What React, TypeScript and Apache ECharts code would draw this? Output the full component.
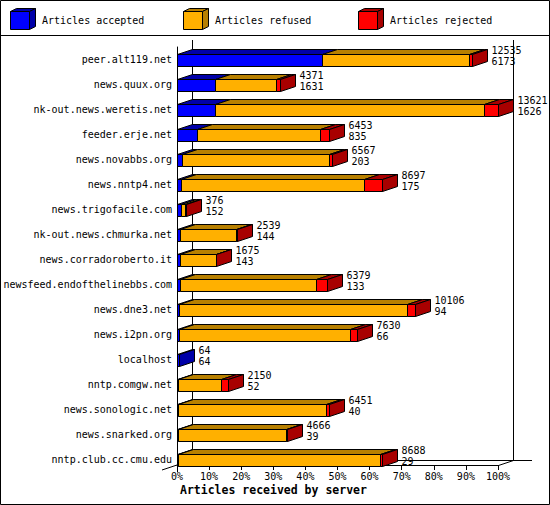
import React, { useEffect, useRef } from "react";
import * as echarts from "echarts";

// peers, top to bottom
const hosts = [
  "peer.alt119.net",
  "news.quux.org",
  "nk-out.news.weretis.net",
  "feeder.erje.net",
  "news.novabbs.org",
  "news.nntp4.net",
  "news.trigofacile.com",
  "nk-out.news.chmurka.net",
  "news.corradoroberto.it",
  "newsfeed.endofthelinebbs.com",
  "news.dne3.net",
  "news.i2pn.org",
  "localhost",
  "nntp.comgw.net",
  "news.sonologic.net",
  "news.snarked.org",
  "nntp.club.cc.cmu.edu",
];
const offered = [12535, 4371, 13621, 6453, 6567, 8697, 376, 2539, 1675, 6379, 10106, 7630, 64, 2150, 6451, 4666, 8688];
const accepted = [6173, 1631, 1626, 835, 203, 175, 152, 144, 143, 133, 94, 66, 64, 52, 40, 39, 29];
const refused = [6232, 2550, 11405, 5218, 6254, 7742, 204, 2380, 1492, 5756, 9652, 7294, 0, 1818, 6281, 4607, 8569];
const rejected = [130, 190, 590, 400, 110, 780, 20, 15, 40, 490, 360, 270, 0, 280, 130, 20, 90];

const seriesNames = ["Articles accepted", "Articles refused", "Articles rejected"];
const faceColors = ["#0000ff", "#ffb000", "#ff0000"];
const shadeColors = ["#0000a8", "#b88000", "#a80000"];

const MONO = '"DejaVu Sans Mono", "Liberation Mono", monospace';
const W = 550;
const H = 505;
const LEFT = 177; // 0% on the front plane
const RIGHT = 498; // 100% on the front plane
const TOP = 47;
const BOTTOM = 472;
const FLOOR = 465;
const DX = 15;
const DY = 5;

const App: React.FC = () => {
  const chartRef = useRef<HTMLDivElement | null>(null);

  useEffect(() => {
    document.body.style.margin = "0";
    const dom = chartRef.current;
    if (!dom) return;
    const chart = echarts.init(dom, null, { renderer: "svg" });

    const maxOffered = Math.max(...offered);
    const pct = (v: number) => (v / maxOffered) * 100;
    const data = hosts.map((_, i) => [
      i,
      pct(accepted[i]),
      pct(refused[i]),
      pct(rejected[i]),
      offered[i],
      accepted[i],
    ]);

    const renderItem = (_params: any, api: any) => {
      const row = api.value(0);
      const parts = [api.value(1), api.value(2), api.value(3)];
      const yc = api.coord([0, row])[1];
      const top = Math.round(yc - 6) + 0.5;
      const bottom = top + 12;
      const px = (v: number) => Math.round(api.coord([v, row])[0]) + 0.5;
      const children: any[] = [];
      let start = 0;
      let last = 0;
      parts.forEach((p: number, k: number) => {
        if (p <= 0) return;
        const x1 = px(start);
        const x2 = px(start + p);
        children.push({
          type: "polygon",
          shape: { points: [[x1, top], [x2, top], [x2, bottom], [x1, bottom]] },
          style: { fill: faceColors[k], stroke: "#000", lineWidth: 1 },
        });
        children.push({
          type: "polygon",
          shape: { points: [[x1, top], [x1 + DX, top - DY], [x2 + DX, top - DY], [x2, top]] },
          style: { fill: shadeColors[k], stroke: "#000", lineWidth: 1 },
        });
        start += p;
        last = k;
      });
      const xe = px(start);
      children.push({
        type: "polygon",
        shape: { points: [[xe, top], [xe + DX, top - DY], [xe + DX, bottom - DY], [xe, bottom]] },
        style: { fill: shadeColors[last], stroke: "#000", lineWidth: 1 },
      });
      children.push({
        type: "text",
        x: xe + DX + 4,
        y: yc - 3.5,
        style: {
          text: `${api.value(4)}\n${api.value(5)}`,
          fill: "#000",
          fontFamily: MONO,
          fontSize: 10,
          lineHeight: 11,
          verticalAlign: "middle",
          align: "left",
        },
      });
      return { type: "group", children };
    };

    // legend cubes
    const legendX = [10, 183, 358];
    const legendGraphics: any[] = [];
    seriesNames.forEach((name, k) => {
      const x0 = legendX[k] + 0.5;
      const y0 = 11.5;
      legendGraphics.push(
        {
          type: "polygon",
          shape: { points: [[x0, y0], [x0 + 6, y0 - 3], [x0 + 25, y0 - 3], [x0 + 19, y0]] },
          style: { fill: shadeColors[k], stroke: "#000", lineWidth: 1 },
        },
        {
          type: "polygon",
          shape: { points: [[x0 + 19, y0], [x0 + 25, y0 - 3], [x0 + 25, y0 + 15], [x0 + 19, y0 + 18]] },
          style: { fill: shadeColors[k], stroke: "#000", lineWidth: 1 },
        },
        {
          type: "rect",
          shape: { x: x0, y: y0, width: 19, height: 18 },
          style: { fill: faceColors[k], stroke: "#000", lineWidth: 1 },
        },
        {
          type: "text",
          x: legendX[k] + 32,
          y: 20,
          style: { text: name, fill: "#000", fontFamily: MONO, fontSize: 10, verticalAlign: "middle" },
        }
      );
    });

    const line = (x1: number, y1: number, x2: number, y2: number) => ({
      type: "line",
      z: 0,
      shape: { x1, y1, x2, y2 },
      style: { stroke: "#000", lineWidth: 1 },
    });

    const option = {
      animation: false,
      backgroundColor: "#fff",
      title: {
        text: "Articles received by server",
        left: 180,
        top: 484,
        padding: 0,
        textStyle: { fontFamily: MONO, fontSize: 11.5, fontWeight: "bold", color: "#000" },
      },
      grid: { left: LEFT, right: W - RIGHT, top: TOP, bottom: H - BOTTOM },
      xAxis: {
        type: "value",
        min: 0,
        max: 100,
        interval: 10,
        offset: -(BOTTOM - FLOOR),
        axisLine: { show: true, lineStyle: { color: "#000", width: 1 } },
        axisTick: { show: true, length: 5, lineStyle: { color: "#000" } },
        splitLine: { show: false },
        axisLabel: {
          formatter: "{value}%",
          color: "#000",
          fontFamily: MONO,
          fontSize: 10,
          margin: 6,
        },
      },
      yAxis: {
        type: "category",
        inverse: true,
        data: hosts,
        axisLine: { show: true, lineStyle: { color: "#000", width: 1 } },
        axisTick: { show: false },
        axisLabel: { color: "#000", fontFamily: MONO, fontSize: 10, margin: 5 },
      },
      graphic: [
        {
          type: "rect",
          z: 0,
          shape: { x: 0.5, y: 0.5, width: W - 1, height: H - 1 },
          style: { fill: "none", stroke: "#000", lineWidth: 1 },
        },
        line(0, 35.5, W, 35.5),
        // back wall, right wall and floor
        line(LEFT + DX + 0.5, 40, LEFT + DX + 0.5, FLOOR - DY + 0.5),
        line(RIGHT + DX + 0.5, 40, RIGHT + DX + 0.5, FLOOR - DY + 0.5),
        line(LEFT + DX, FLOOR - DY + 0.5, RIGHT + DX + 19, FLOOR - DY + 0.5),
        line(RIGHT + 0.5, FLOOR + 0.5, RIGHT + DX + 0.5, FLOOR - DY + 0.5),
        line(LEFT - DX, FLOOR + DY, LEFT + DX, FLOOR - DY),
        ...legendGraphics,
      ],
      series: [
        {
          type: "custom",
          name: "Articles",
          renderItem,
          encode: { x: 1, y: 0 },
          data,
          z: 5,
          clip: false,
        },
      ],
    };

    chart.setOption(option as any);
    return () => {
      chart.dispose();
    };
  }, []);

  return <div ref={chartRef} style={{ width: W, height: H }} />;
};

export default App;
